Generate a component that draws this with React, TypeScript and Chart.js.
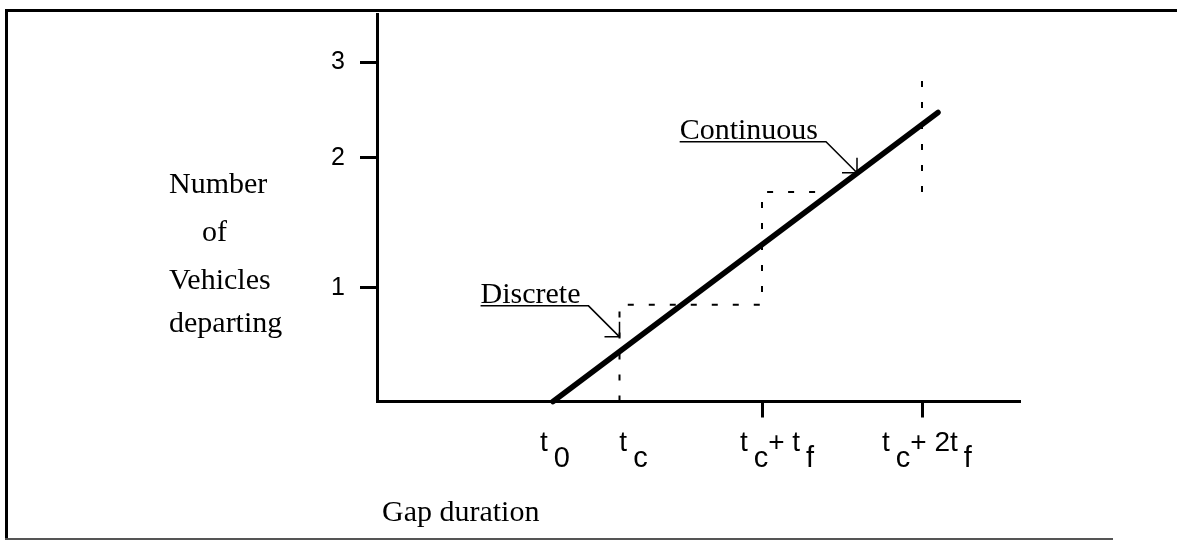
import React, { useEffect, useRef } from 'react';
import { Chart, registerables } from 'chart.js';

Chart.register(...registerables);

// ---- data ----
const xTickLabels = ['t_0', 't_c', 't_c+ t_f', 't_c+ 2t_f'];
const xTickLabelValues = [1.76, 2.425, 3.85, 5.45];
const xTickMarkValues = [3.85, 5.45];
const yTickValues = [1, 2.14, 2.98];
const yTickLabels = ['1', '2', '3'];
const continuousX = [1.76, 5.61];
const continuousY = [0, 2.54];
const discreteX = [2.425, 2.425, 3.85, 3.85, 4.54];
const discreteY = [0, 0.85, 0.85, 1.84, 1.84];
const nextStepX = [5.45, 5.45];
const nextStepY = [1.84, 2.83];
const annotationLabels = ['Discrete', 'Continuous'];
const annotationX = [2.425, 4.8];
const annotationY = [0.568, 2.01];
const yTitleLines = ['Number', 'of', 'Vehicles', 'departing'];
const xTitle = 'Gap duration';

const W = 1177;
const H = 541;
const SERIF = '"Liberation Serif", "Times New Roman", serif';
const SANS = '"Liberation Sans", Arial, sans-serif';

function drawSubLabel(ctx: CanvasRenderingContext2D, label: string, cx: number, base: number, subBase: number) {
  const segs: { t: string; sub: boolean }[] = [];
  let buf = '';
  for (let i = 0; i < label.length; i++) {
    if (label[i] === '_' && i + 1 < label.length) {
      if (buf) segs.push({ t: buf, sub: false });
      buf = '';
      segs.push({ t: label[i + 1], sub: true });
      i++;
    } else buf += label[i];
  }
  if (buf) segs.push({ t: buf, sub: false });
  const mainFont = `28px ${SANS}`;
  const subFont = `29px ${SANS}`;
  const gap = 6;
  let total = 0;
  const widths = segs.map((s) => {
    ctx.font = s.sub ? subFont : mainFont;
    const w = ctx.measureText(s.t).width + (s.sub ? gap : 0);
    total += w;
    return w;
  });
  let xPos = cx - total / 2;
  ctx.textAlign = 'left';
  ctx.textBaseline = 'alphabetic';
  segs.forEach((s, i) => {
    ctx.font = s.sub ? subFont : mainFont;
    ctx.fillText(s.t, xPos + (s.sub ? gap : 0), s.sub ? subBase : base);
    xPos += widths[i];
  });
}

const diagramPlugin = {
  id: 'diagram',
  beforeDraw(chart: any) {
    const ctx: CanvasRenderingContext2D = chart.ctx;
    ctx.save();
    ctx.fillStyle = '#fff';
    ctx.fillRect(0, 0, W, H);
    ctx.fillStyle = '#000';
    ctx.fillRect(5, 9, 3, 531);
    ctx.fillRect(5, 9, W - 5, 3);
    ctx.fillStyle = '#555';
    ctx.fillRect(5, 538, 1108, 2);
    ctx.restore();
  },
  afterDraw(chart: any) {
    const ctx: CanvasRenderingContext2D = chart.ctx;
    const x = chart.scales.x;
    const y = chart.scales.y;
    ctx.save();
    ctx.fillStyle = '#000';
    ctx.strokeStyle = '#000';
    ctx.textAlign = 'left';
    ctx.textBaseline = 'alphabetic';
    // y axis title
    ctx.font = `30px ${SERIF}`;
    const indent = [0, 33, 0, 0];
    const baselines = [193, 241, 289, 332];
    yTitleLines.forEach((s, i) => ctx.fillText(s, 169 + indent[i], baselines[i]));
    // x axis title
    ctx.fillText(xTitle, 382, 521);
    // x tick labels with subscripts
    const nudge = [2, 14, 15, 5];
    xTickLabels.forEach((lab, i) =>
      drawSubLabel(ctx, lab, x.getPixelForValue(xTickLabelValues[i]) + nudge[i], 451, 467)
    );
    // annotations with leaders
    annotationLabels.forEach((lab, i) => {
      const tx = x.getPixelForValue(annotationX[i]);
      const ty = y.getPixelForValue(annotationY[i]);
      const sx = tx - 31;
      const sy = ty - 31;
      ctx.font = `30px ${SERIF}`;
      ctx.textAlign = 'left';
      ctx.textBaseline = 'alphabetic';
      const w = ctx.measureText(lab).width;
      const left = sx - w - 8;
      ctx.fillText(lab, left, sy - 3);
      ctx.lineWidth = 1.5;
      ctx.beginPath();
      ctx.moveTo(left, sy);
      ctx.lineTo(sx, sy);
      ctx.lineTo(tx, ty);
      ctx.moveTo(tx - 15, ty);
      ctx.lineTo(tx, ty);
      ctx.lineTo(tx, ty - 15);
      ctx.stroke();
    });
    ctx.restore();
  },
};

function pts(xs: number[], ys: number[]) {
  return xs.map((v, i) => ({ x: v, y: ys[i] }));
}

export default function App() {
  const ref = useRef<HTMLCanvasElement | null>(null);
  useEffect(() => {
    document.body.style.margin = '0';
    const canvas = ref.current;
    if (!canvas) return;
    const dashed = {
      showLine: true,
      borderColor: '#000',
      borderWidth: 2,
      borderDash: [6, 15],
      pointRadius: 0,
      clip: false,
    };
    const chart = new Chart(canvas, {
      type: 'scatter',
      data: {
        datasets: [
          {
            data: pts(continuousX, continuousY),
            showLine: true,
            borderColor: '#000',
            borderWidth: 5.5,
            borderCapStyle: 'round',
            pointRadius: 0,
            clip: false,
          } as any,
          { data: pts(discreteX, discreteY), ...dashed } as any,
          { data: pts(nextStepX, nextStepY), ...dashed } as any,
        ],
      },
      options: {
        responsive: false,
        animation: false,
        devicePixelRatio: 1,
        layout: { padding: { top: 14, right: 157, left: 0, bottom: 0 } },
        plugins: { legend: { display: false }, tooltip: { enabled: false } },
        scales: {
          x: {
            type: 'linear',
            min: 0,
            max: 6.43,
            afterBuildTicks: (s: any) => {
              s.ticks = xTickMarkValues.map((v) => ({ value: v }));
            },
            afterFit: (s: any) => {
              s.height = H - 401.5;
              s.paddingLeft = 0;
              s.paddingRight = 0;
            },
            ticks: { display: false },
            grid: { drawOnChartArea: false, tickLength: 16, tickWidth: 3, tickColor: '#000' },
            border: { display: true, color: '#000', width: 3 },
          },
          y: {
            type: 'linear',
            min: 0,
            max: 3.405,
            afterBuildTicks: (s: any) => {
              s.ticks = yTickValues.map((v) => ({ value: v }));
            },
            afterFit: (s: any) => {
              s.width = 377;
              s.paddingTop = 0;
              s.paddingBottom = 0;
            },
            ticks: {
              autoSkip: false,
              callback: (_v: any, i: number) => yTickLabels[i],
              font: { family: 'Liberation Sans', size: 25 },
              color: '#000',
              padding: 15,
            },
            grid: { drawOnChartArea: false, tickLength: 17, tickWidth: 3, tickColor: '#000' },
            border: { display: true, color: '#000', width: 3 },
          },
        },
      } as any,
      plugins: [diagramPlugin],
    });
    return () => chart.destroy();
  }, []);
  return (
    <div style={{ width: W, height: H }}>
      <canvas ref={ref} width={W} height={H} style={{ display: 'block' }} />
    </div>
  );
}
